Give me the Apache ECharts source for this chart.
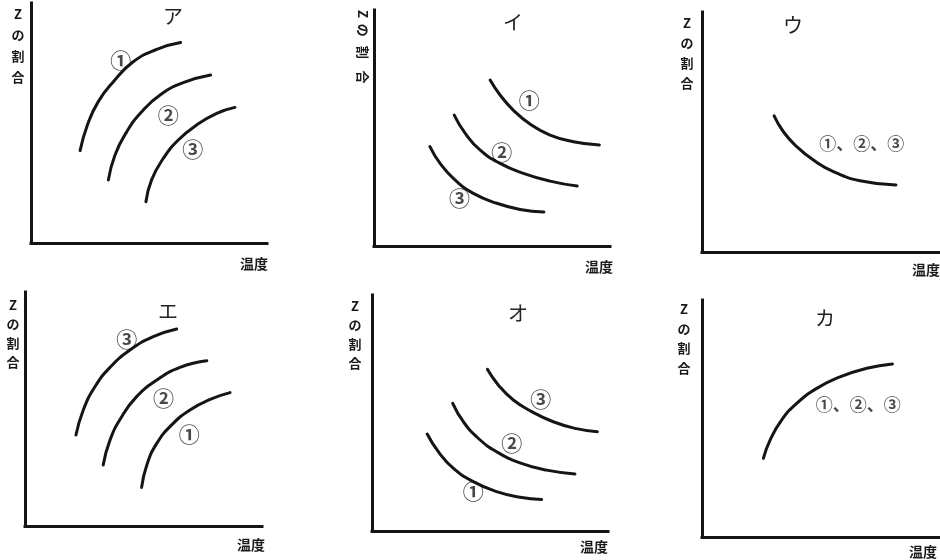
<!DOCTYPE html>
<html><head><meta charset="utf-8">
<script src="https://cdn.jsdelivr.net/npm/echarts@6/dist/echarts.min.js"></script>
<style>html,body{margin:0;padding:0;background:#fff}#c{width:940px;height:560px}</style>
</head><body><div id="c"></div>
<script>
// ---- data (axes run 0..100 in both directions) ----
const panelTitles = ['ア', 'イ', 'ウ', 'エ', 'オ', 'カ'];
const yName = 'Zの割合';
const xName = '温度';

// ア
const curveA1 = [[20.8,38.5],[23.9,49.2],[28.5,58.9],[34.9,67.2],[43.3,75.5],[53.3,80.7],[63.4,83.5]];
const curveA2 = [[32.8,26.3],[35.6,36.7],[40.6,46.4],[46.9,54.7],[54.7,61.7],[64.5,66.8],[76.1,70.0]];
const curveA3 = [[48.7,17.2],[51.1,26.3],[56.1,35.3],[62.4,42.9],[70.2,49.2],[78.7,54.0],[86.4,56.5]];
const labelsA = [[38.0,76.3,'①'],[58.2,53.3,'②'],[68.5,39.2,'③']];
// イ
const curveI1 = [[49.2,70.3],[53.4,64.0],[59.0,57.6],[66.1,51.7],[74.6,47.0],[84.5,44.2],[95.5,42.8]];
const curveI2 = [[34.0,55.5],[38.6,47.8],[44.9,40.7],[53.4,35.0],[63.3,30.8],[74.6,27.5],[86.1,25.4]];
const curveI3 = [[23.7,42.1],[28.0,35.0],[34.3,28.0],[42.1,22.3],[52.0,18.1],[61.9,15.5],[72.0,14.4]];
const labelsI = [[65.8,61.9,'①'],[54.1,40.0,'②'],[36.2,20.5,'③']];
// ウ
const curveU = [[30.3,56.7],[34.2,50.1],[39.8,43.9],[46.8,38.3],[55.2,33.5],[66.4,29.7],[81.5,27.9]];
const labelsU = [[67.1,45.0,'①、②、③']];
// エ
const curveE3 = [[21.5,38.9],[24.6,49.6],[29.5,59.5],[35.9,67.8],[44.3,75.2],[54.1,80.9],[64.0,84.2]];
const curveE2 = [[33.0,26.1],[35.9,36.8],[40.8,46.7],[47.1,55.3],[55.6,62.4],[65.4,67.8],[76.7,70.6]];
const curveE1 = [[49.2,16.5],[51.4,26.1],[55.6,35.3],[61.9,43.2],[69.6,49.6],[78.1,54.1],[86.5,57.0]];
const labelsE = [[42.9,79.8,'③'],[58.4,54.6,'②'],[69.3,39.3,'①']];
// オ
const curveO3 = [[48.9,68.5],[53.5,61.9],[59.9,55.5],[67.7,50.6],[76.8,46.3],[86.0,43.5],[95.5,42.1]];
const curveO2 = [[34.2,54.1],[38.7,46.3],[45.0,39.3],[52.8,33.6],[62.7,28.9],[74.0,25.8],[86.0,24.2]];
const curveO1 = [[23.4,41.1],[28.1,33.6],[34.4,26.6],[42.9,20.9],[52.8,16.7],[62.7,14.3],[71.9,13.4]];
const labelsO = [[71.5,55.8,'③'],[59.2,37.4,'②'],[42.9,17.1,'①']];
// カ
const curveK = [[25.8,33.2],[28.6,40.9],[33.5,49.4],[39.8,56.4],[48.2,62.7],[58.0,67.6],[69.2,71.2],[80.0,73.0]];
const labelsK = [[65.7,55.7,'①、②、③']];

const panelCurves = [[curveA1,curveA2,curveA3],[curveI1,curveI2,curveI3],[curveU],[curveE3,curveE2,curveE1],[curveO3,curveO2,curveO1],[curveK]];
const panelLabels = [labelsA, labelsI, labelsU, labelsE, labelsO, labelsK];

// ---- layout (pixels) ----
const layouts = [
  {grid:[31,3,236,240],   title:[173,16],  yN:{off:13, dy:1,   lh:21},   xN:{gap:1,  dy:14}},
  {grid:[374,10,236,236], title:[513,22],  yN:{off:11, dy:0,   rotate:true}, xN:{gap:3, dy:14}},
  {grid:[702,12,238,240], title:[793,25],  yN:{off:15, dy:1.5, lh:20},   xN:{gap:0,  dy:11}},
  {grid:[25,292,237,234], title:[168,311], yN:{off:12, dy:3.5, lh:19},   xN:{gap:3,  dy:12}},
  {grid:[372,295,236,236],title:[518,313], yN:{off:17, dy:1.5, lh:19},   xN:{gap:0,  dy:9}},
  {grid:[702,300,238,237],title:[825,318], yN:{off:18, dy:-0.5,lh:19.5}, xN:{gap:-3, dy:8}}
];

const FONT = '"Noto Sans CJK JP", "Noto Sans", sans-serif';
const INK = '#151515';

const chart = echarts.init(document.getElementById('c'), null, {renderer:'canvas', width:940, height:560});

const grids = [], xAxes = [], yAxes = [], titles = [], series = [];
layouts.forEach((L, i) => {
  grids.push({left:L.grid[0], top:L.grid[1], width:L.grid[2], height:L.grid[3], containLabel:false, outerBoundsMode:'none'});
  titles.push({text:panelTitles[i], left:L.title[0], top:L.title[1], textAlign:'center', textVerticalAlign:'middle', padding:0,
    textStyle:{fontSize:20, fontWeight:'normal', color:'#222', fontFamily:FONT}});
  const axisLine = {show:true, onZero:false, lineStyle:{color:INK, width:3, cap:'square'}};
  xAxes.push({gridIndex:i, type:'value', min:0, max:100, axisLine, axisTick:{show:false}, axisLabel:{show:false}, splitLine:{show:false},
    name:xName, nameLocation:'end', nameGap:L.xN.gap,
    nameTextStyle:{align:'right', verticalAlign:'top', padding:[L.xN.dy,0,0,0], fontSize:14, fontWeight:'bold', color:'#1a1a1a', fontFamily:FONT}});
  let yAx = {gridIndex:i, type:'value', min:0, max:100, axisLine, axisTick:{show:false}, axisLabel:{show:false}, splitLine:{show:false},
    nameLocation:'end'};
  if (L.yN.rotate) {
    Object.assign(yAx, {name: 'Z  の   割    合', nameRotate:-90, nameGap:-L.yN.dy,
      nameTextStyle:{align:'left', verticalAlign:'top', lineHeight:2*L.yN.off, fontSize:13, fontWeight:'bold', color:'#1a1a1a', fontFamily:FONT}});
  } else {
    Object.assign(yAx, {name: yName.split('').join('\n'), nameGap:-L.yN.dy,
      nameTextStyle:{align:'center', verticalAlign:'top', lineHeight:L.yN.lh, padding:[0,2*L.yN.off,0,0], fontSize:13, fontWeight:'bold', color:'#1a1a1a', fontFamily:FONT}});
  }
  yAxes.push(yAx);
  panelCurves[i].forEach(c => {
    series.push({type:'line', xAxisIndex:i, yAxisIndex:i, data:c, smooth:true, showSymbol:false, symbol:'none', silent:true,
      lineStyle:{width:3, color:INK, cap:'round'}});
  });
  const single = panelLabels[i].length > 1;
  series.push({type:'scatter', xAxisIndex:i, yAxisIndex:i, silent:true, symbolSize:1, itemStyle:{color:'rgba(0,0,0,0)'},
    data: panelLabels[i].map(l => ({value:[l[0], l[1]], name:l[2]})),
    label:{show:true, position:'inside', formatter:'{b}', fontSize: single ? 21 : 17, fontWeight:'bold', color:'#1a1a1a', fontFamily:FONT}});
});

chart.setOption({
  backgroundColor:'#ffffff',
  animation:false,
  title:titles, grid:grids, xAxis:xAxes, yAxis:yAxes, series
});
</script>
</body></html>
